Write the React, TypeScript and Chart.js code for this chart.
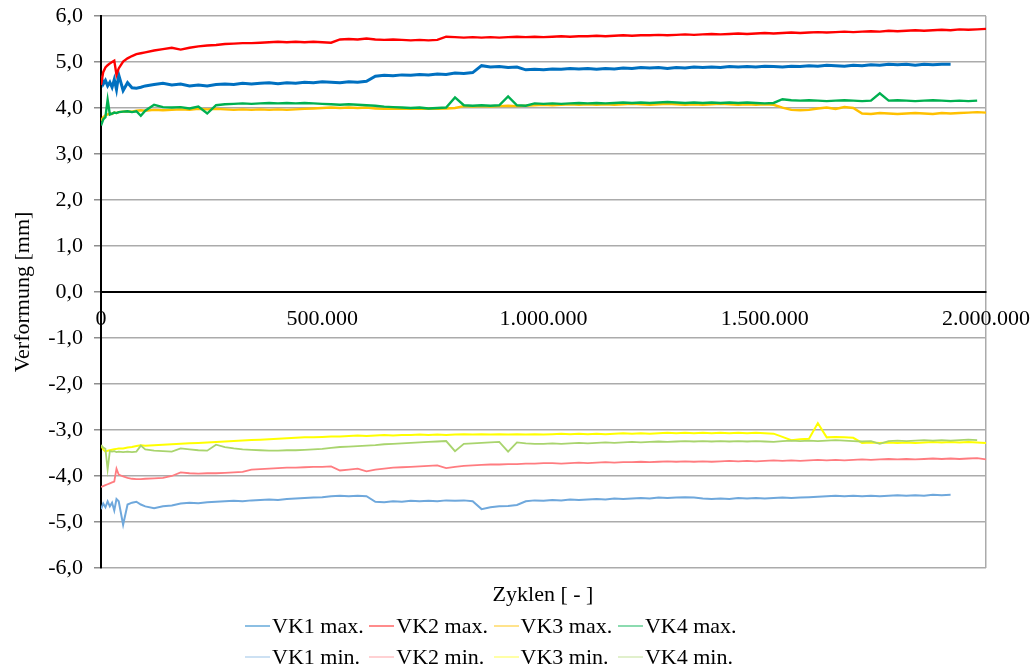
import React, { useEffect, useRef } from "react";
import { Chart, registerables } from "chart.js";

Chart.register(...registerables);

// Load cycles (in thousands) at which the deformation was sampled
const cyclesK = [
  0, 5, 10, 15, 20, 25, 30, 35, 40, 50, 60, 70, 80, 90,
  100, 120, 140, 160, 180, 200, 220, 240, 260, 280,
  300, 320, 340, 360, 380, 400, 420, 440, 460, 480,
  500, 520, 540, 560, 580, 600, 620, 640, 660, 680,
  700, 720, 740, 760, 780, 800, 820, 840, 860, 880,
  900, 920, 940, 960, 980, 1000, 1020, 1040, 1060, 1080,
  1100, 1120, 1140, 1160, 1180, 1200, 1220, 1240, 1260, 1280,
  1300, 1320, 1340, 1360, 1380, 1400, 1420, 1440, 1460, 1480,
  1500, 1520, 1540, 1560, 1580, 1600, 1620, 1640, 1660, 1680,
  1700, 1720, 1740, 1760, 1780, 1800, 1820, 1840, 1860, 1880,
  1900, 1920, 1940, 1960, 1980, 2000,
];

// Deformation [mm], upper envelope per specimen
const vk1Max = [
  4.70, 4.52, 4.60, 4.48, 4.56, 4.45, 4.62, 4.40, 4.72, 4.38, 4.55, 4.44, 4.43, 4.45,
  4.48, 4.51, 4.54, 4.50, 4.52, 4.48, 4.50, 4.48, 4.51, 4.52,
  4.51, 4.54, 4.52, 4.54, 4.55, 4.53, 4.55, 4.54, 4.56, 4.55,
  4.57, 4.56, 4.55, 4.57, 4.56, 4.58, 4.69, 4.71, 4.70, 4.72,
  4.71, 4.73, 4.72, 4.74, 4.73, 4.76, 4.75, 4.77, 4.92, 4.89,
  4.90, 4.88, 4.89, 4.83, 4.84, 4.83, 4.85, 4.84, 4.86, 4.85,
  4.86, 4.84, 4.86, 4.85, 4.87, 4.86, 4.88, 4.87, 4.88, 4.86,
  4.88, 4.87, 4.89, 4.88, 4.89, 4.88, 4.90, 4.89, 4.90, 4.89,
  4.91, 4.90, 4.89, 4.91, 4.90, 4.92, 4.91, 4.93, 4.92, 4.91,
  4.93, 4.92, 4.94, 4.93, 4.95, 4.94, 4.95, 4.93, 4.95, 4.94,
  4.95, 4.95, null, null, null, null,
];
const vk2Max = [
  4.50, 4.78, 4.88, 4.93, 4.97, 5.00, 5.03, 4.72, 4.86, 5.01, 5.08, 5.13, 5.17, 5.19,
  5.21, 5.25, 5.28, 5.31, 5.27, 5.31, 5.34, 5.36, 5.37, 5.39,
  5.40, 5.41, 5.41, 5.42, 5.43, 5.44, 5.43, 5.44, 5.43, 5.44,
  5.43, 5.42, 5.49, 5.50, 5.49, 5.51, 5.49, 5.48, 5.49, 5.48,
  5.47, 5.48, 5.47, 5.48, 5.55, 5.54, 5.53, 5.54, 5.53, 5.54,
  5.53, 5.54, 5.55, 5.54, 5.55, 5.54, 5.55, 5.56, 5.55, 5.56,
  5.56, 5.57, 5.56, 5.57, 5.58, 5.57, 5.58, 5.58, 5.59, 5.58,
  5.59, 5.60, 5.59, 5.60, 5.61, 5.60, 5.61, 5.62, 5.61, 5.62,
  5.63, 5.62, 5.63, 5.64, 5.63, 5.64, 5.65, 5.64, 5.65, 5.66,
  5.65, 5.66, 5.67, 5.66, 5.68, 5.67, 5.68, 5.69, 5.68, 5.69,
  5.70, 5.69, 5.71, 5.70, 5.71, 5.72,
];
const vk3Max = [
  3.72, 3.80, 3.84, 3.86, 3.88, 3.87, 3.90, 3.89, 3.91, 3.92, 3.93, 3.92, 3.94, 3.95,
  3.94, 3.96, 3.95, 3.96, 3.97, 3.96, 3.98, 3.97, 3.98, 3.97,
  3.96, 3.97, 3.96, 3.97, 3.96, 3.97, 3.96, 3.97, 3.98, 3.99,
  4.00, 4.01, 4.00, 4.01, 4.00, 4.01, 3.99, 3.98, 3.99, 3.98,
  3.99, 3.98, 3.99, 3.98, 3.99, 4.00, 4.04, 4.03, 4.04, 4.03,
  4.04, 4.05, 4.04, 4.05, 4.06, 4.07, 4.06, 4.07, 4.08, 4.07,
  4.08, 4.07, 4.08, 4.07, 4.08, 4.09, 4.08, 4.07, 4.08, 4.09,
  4.08, 4.07, 4.08, 4.07, 4.08, 4.09, 4.08, 4.07, 4.08, 4.07,
  4.08, 4.07, 4.01, 3.96, 3.95, 3.96, 3.99, 4.01, 3.98, 4.02,
  4.00, 3.88, 3.87, 3.89, 3.88, 3.87, 3.88, 3.89, 3.88, 3.87,
  3.89, 3.88, 3.89, 3.90, 3.91, 3.90,
];
const vk4Max = [
  3.62, 3.75, 3.80, 4.18, 3.86, 3.88, 3.90, 3.89, 3.91, 3.92, 3.93, 3.91, 3.93, 3.83,
  3.94, 4.07, 4.02, 4.01, 4.02, 3.99, 4.03, 3.88, 4.06, 4.08,
  4.09, 4.10, 4.09, 4.10, 4.11, 4.10, 4.11, 4.10, 4.11, 4.10,
  4.09, 4.08, 4.07, 4.08, 4.07, 4.06, 4.05, 4.03, 4.02, 4.01,
  4.00, 4.01, 3.99, 4.00, 4.01, 4.23, 4.06, 4.05, 4.06, 4.05,
  4.06, 4.25, 4.06, 4.05, 4.10, 4.09, 4.10, 4.09, 4.10, 4.11,
  4.10, 4.11, 4.10, 4.11, 4.12, 4.11, 4.12, 4.11, 4.12, 4.13,
  4.12, 4.11, 4.12, 4.11, 4.12, 4.11, 4.12, 4.11, 4.12, 4.11,
  4.10, 4.11, 4.19, 4.17, 4.16, 4.17, 4.16, 4.15, 4.16, 4.17,
  4.16, 4.15, 4.16, 4.32, 4.16, 4.17, 4.16, 4.15, 4.16, 4.17,
  4.16, 4.15, 4.16, 4.15, 4.16, null,
];

// Deformation [mm], lower envelope per specimen
const vk1Min = [
  -4.72, -4.60, -4.68, -4.55, -4.66, -4.58, -4.75, -4.50, -4.55, -5.06, -4.62, -4.58, -4.56, -4.62,
  -4.66, -4.70, -4.66, -4.64, -4.60, -4.58, -4.59, -4.57, -4.56, -4.55,
  -4.54, -4.55, -4.53, -4.52, -4.51, -4.52, -4.50, -4.49, -4.48, -4.47,
  -4.46, -4.44, -4.43, -4.44, -4.43, -4.44, -4.56, -4.57, -4.55, -4.56,
  -4.54, -4.55, -4.54, -4.55, -4.53, -4.54, -4.53, -4.55, -4.72, -4.68,
  -4.66, -4.65, -4.63, -4.55, -4.53, -4.54, -4.52, -4.53, -4.51, -4.52,
  -4.51, -4.50, -4.51, -4.49, -4.50, -4.49, -4.48, -4.49, -4.47, -4.48,
  -4.47, -4.46, -4.47, -4.49, -4.50, -4.49, -4.50, -4.48, -4.49, -4.48,
  -4.49, -4.48, -4.47, -4.48, -4.47, -4.46, -4.45, -4.44, -4.43, -4.44,
  -4.43, -4.44, -4.43, -4.44, -4.43, -4.42, -4.43, -4.42, -4.43, -4.41,
  -4.42, -4.41, null, null, null, null,
];
const vk2Min = [
  -4.24, -4.22, -4.20, -4.18, -4.16, -4.14, -4.12, -3.84, -3.97, -4.01, -4.04, -4.06, -4.07, -4.07,
  -4.06, -4.05, -4.04, -4.00, -3.92, -3.94, -3.95, -3.94, -3.94, -3.93,
  -3.92, -3.91, -3.86, -3.85, -3.84, -3.83, -3.82, -3.82, -3.81, -3.80,
  -3.80, -3.79, -3.88, -3.86, -3.84, -3.90, -3.86, -3.84, -3.82, -3.81,
  -3.80, -3.79, -3.78, -3.77, -3.83, -3.80, -3.78, -3.77, -3.76, -3.75,
  -3.75, -3.74, -3.74, -3.73, -3.73, -3.72, -3.72, -3.73, -3.72, -3.71,
  -3.72, -3.71, -3.70, -3.71, -3.70, -3.70, -3.69, -3.70, -3.69, -3.68,
  -3.69, -3.68, -3.69, -3.68, -3.69, -3.68, -3.67, -3.68, -3.67, -3.68,
  -3.67, -3.66, -3.67, -3.66, -3.67, -3.66, -3.65, -3.66, -3.65, -3.66,
  -3.65, -3.64, -3.65, -3.64, -3.63, -3.64, -3.63, -3.64, -3.63, -3.62,
  -3.63, -3.62, -3.63, -3.62, -3.61, -3.64,
];
const vk3Min = [
  -3.33, -3.42, -3.47, -3.45, -3.44, -3.43, -3.42, -3.41, -3.40, -3.40, -3.38, -3.37, -3.35, -3.33,
  -3.34, -3.33, -3.32, -3.31, -3.30, -3.29, -3.28, -3.27, -3.26, -3.25,
  -3.24, -3.23, -3.22, -3.21, -3.20, -3.19, -3.18, -3.17, -3.16, -3.16,
  -3.15, -3.14, -3.14, -3.13, -3.12, -3.13, -3.12, -3.11, -3.12, -3.11,
  -3.11, -3.10, -3.11, -3.10, -3.11, -3.10, -3.09, -3.10, -3.09, -3.10,
  -3.09, -3.10, -3.09, -3.10, -3.09, -3.10, -3.09, -3.08, -3.09, -3.08,
  -3.09, -3.08, -3.09, -3.08, -3.07, -3.08, -3.07, -3.08, -3.07, -3.06,
  -3.07, -3.06, -3.07, -3.06, -3.07, -3.06, -3.07, -3.06, -3.07, -3.06,
  -3.07, -3.08, -3.15, -3.22, -3.20, -3.19, -2.85, -3.16, -3.15, -3.16,
  -3.17, -3.28, -3.27, -3.28, -3.27, -3.28, -3.27, -3.28, -3.27, -3.26,
  -3.27, -3.26, -3.27, -3.26, -3.27, -3.28,
];
const vk4Min = [
  -3.33, -3.38, -3.41, -3.86, -3.46, -3.47, -3.46, -3.48, -3.47, -3.48, -3.47, -3.48, -3.47, -3.34,
  -3.42, -3.45, -3.46, -3.47, -3.40, -3.42, -3.44, -3.45, -3.32, -3.37,
  -3.40, -3.42, -3.43, -3.44, -3.45, -3.45, -3.44, -3.44, -3.43, -3.42,
  -3.41, -3.39, -3.37, -3.36, -3.35, -3.34, -3.33, -3.31, -3.30, -3.29,
  -3.28, -3.27, -3.26, -3.25, -3.24, -3.46, -3.30, -3.29, -3.28, -3.27,
  -3.26, -3.47, -3.27, -3.29, -3.30, -3.30, -3.29, -3.30, -3.29, -3.28,
  -3.29, -3.28, -3.27, -3.28, -3.27, -3.26, -3.27, -3.26, -3.25, -3.26,
  -3.25, -3.24, -3.25, -3.24, -3.25, -3.24, -3.25, -3.24, -3.25, -3.24,
  -3.25, -3.26, -3.24, -3.23, -3.24, -3.23, -3.24, -3.23, -3.22, -3.23,
  -3.24, -3.25, -3.24, -3.30, -3.24, -3.23, -3.24, -3.23, -3.22, -3.23,
  -3.22, -3.23, -3.22, -3.21, -3.22, null,
];

const seriesLabels = [
  "VK1 max.", "VK2 max.", "VK3 max.", "VK4 max.",
  "VK1 min.", "VK2 min.", "VK3 min.", "VK4 min.",
];
const seriesValues = [vk1Max, vk2Max, vk3Max, vk4Max, vk1Min, vk2Min, vk3Min, vk4Min];
const seriesColors = [
  "#0070c0", "#ff0000", "#ffc000", "#00b050",
  "#6fa8dc", "#ff7c80", "#ffff00", "#a9d46e",
];
const seriesWidths = [3, 2.4, 2.4, 2.4, 2, 1.8, 2, 1.8];

const yTicksLabel = (v: number) => v.toFixed(1).replace(".", ",");
const xTicksLabel = (v: number) =>
  String(Math.round(v)).replace(/\B(?=(\d{3})+(?!\d))/g, ".");

const FONT_FAMILY = "'Liberation Serif', 'Times New Roman', serif";
const GRID_COLOR = "#ababab";

export default function App() {
  const canvasRef = useRef<HTMLCanvasElement | null>(null);

  useEffect(() => {
    const canvas = canvasRef.current;
    if (!canvas) return;

    const datasets = seriesValues.map((vals, s) => ({
      label: seriesLabels[s],
      data: cyclesK.map((k, i) => ({ x: k * 1000, y: vals[i] })),
      borderColor: seriesColors[s],
      backgroundColor: seriesColors[s],
      borderWidth: seriesWidths[s],
      pointRadius: 0,
      tension: 0,
      fill: false,
      spanGaps: false,
      order: seriesLabels.length - s,
    }));

    const chart = new Chart(canvas, {
      type: "line",
      data: { datasets },
      options: {
        animation: false,
        responsive: false,
        devicePixelRatio: 1,
        events: [],
        layout: { padding: { left: 0, top: 16, right: 49, bottom: 102 } },
        plugins: {
          legend: { display: false },
          tooltip: { enabled: false },
          title: { display: false },
        },
        scales: {
          x: {
            type: "linear",
            position: { y: 0 },
            min: 0,
            max: 2000000,
            // the plot frame is fixed by the layout padding alone
            afterFit: (scale: any) => {
              scale.paddingLeft = 0;
              scale.paddingRight = 0;
            },
            grid: {
              drawTicks: false,
              lineWidth: 1.5,
              color: (ctx: any) =>
                ctx.tick && ctx.tick.value === 2000000 ? GRID_COLOR : "rgba(0,0,0,0)",
            },
            border: { display: true, color: "#000", width: 2 },
            ticks: {
              stepSize: 500000,
              maxRotation: 0,
              autoSkip: false,
              padding: 14,
              color: "#000",
              font: { family: FONT_FAMILY, size: 22 },
              callback: (v: any) => xTicksLabel(Number(v)),
            },
          },
          y: {
            type: "linear",
            position: "left",
            min: -6,
            max: 6,
            afterFit: (scale: any) => {
              scale.width = 101;
              scale.paddingTop = 0;
              scale.paddingBottom = 0;
            },
            grid: {
              color: GRID_COLOR,
              lineWidth: 1.5,
              tickLength: 7,
              tickColor: "#8c8c8c",
            },
            border: { display: true, color: "#000", width: 2 },
            ticks: {
              stepSize: 1,
              padding: 11,
              color: "#000",
              font: { family: FONT_FAMILY, size: 22 },
              callback: (v: any) => yTicksLabel(Number(v)),
            },
            title: {
              display: true,
              text: "Verformung [mm]",
              color: "#000",
              font: { family: FONT_FAMILY, size: 22 },
              padding: { top: 10, bottom: 0 },
            },
          },
        },
      },
    });

    return () => chart.destroy();
  }, []);

  const legendRows = [seriesLabels.slice(0, 4), seriesLabels.slice(4)];

  return (
    <div
      style={{
        position: "absolute",
        left: 0,
        top: 0,
        width: 1035,
        height: 670,
        background: "#fff",
        fontFamily: FONT_FAMILY,
        color: "#000",
      }}
    >
      <canvas ref={canvasRef} width={1035} height={670} style={{ display: "block" }} />
      <div
        style={{
          position: "absolute",
          left: 443,
          top: 583,
          width: 200,
          textAlign: "center",
          fontSize: 22,
          lineHeight: "22px",
          whiteSpace: "pre",
        }}
      >
        {"Zyklen [ - ]"}
      </div>
      {legendRows.map((row, r) => (
        <div
          key={r}
          style={{
            position: "absolute",
            left: 245,
            top: 615 + r * 31,
            display: "flex",
            fontSize: 22,
            lineHeight: "22px",
          }}
        >
          {row.map((label, c) => {
            const s = r * 4 + c;
            return (
              <div
                key={label}
                style={{ width: 124.3, display: "flex", alignItems: "center", whiteSpace: "nowrap" }}
              >
                <span
                  style={{
                    display: "inline-block",
                    width: 25,
                    height: r === 0 ? 2 : 1.5,
                    marginRight: 2,
                    background: seriesColors[s],
                    opacity: r === 0 ? 0.45 : 0.35,
                  }}
                />
                <span>{label}</span>
              </div>
            );
          })}
        </div>
      ))}
    </div>
  );
}
